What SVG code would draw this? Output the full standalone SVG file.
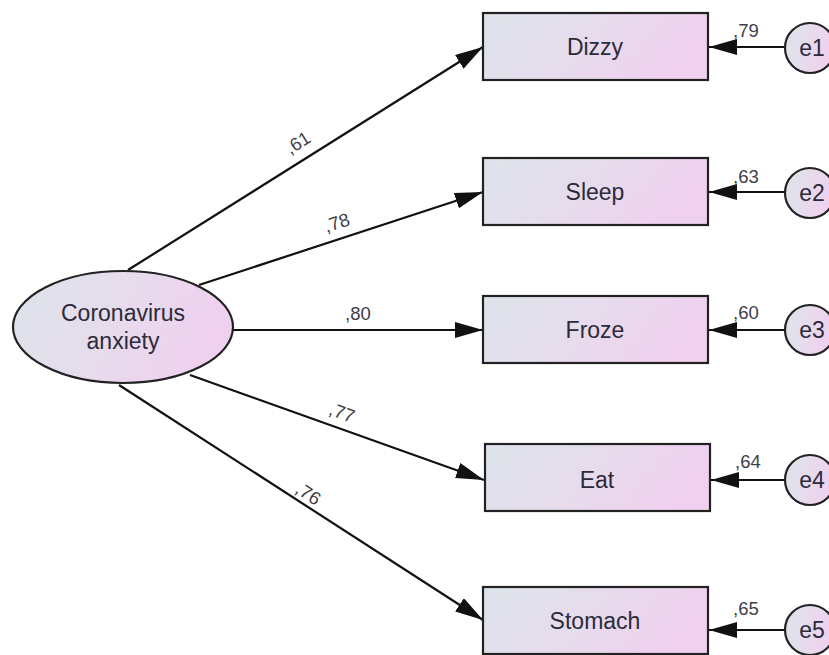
<svg xmlns="http://www.w3.org/2000/svg" width="829" height="655" viewBox="0 0 829 655">
<defs>
<linearGradient id="g" x1="0" y1="0" x2="1" y2="0.25">
<stop offset="0" stop-color="#dde4ea"/>
<stop offset="0.5" stop-color="#e6dcec"/>
<stop offset="1" stop-color="#f0d0ef"/>
</linearGradient>
<marker id="ah" viewBox="0 0 28 16" refX="28" refY="8" markerWidth="28" markerHeight="16" markerUnits="userSpaceOnUse" orient="auto">
<path d="M0,0 L28,8 L0,16 Z" fill="#111"/>
</marker>
<style>
.n{fill:url(#g);stroke:#222;stroke-width:2.2}
.t{font-family:"Liberation Sans",Arial,sans-serif;font-size:23px;fill:#2b2b3b;text-anchor:middle}
.c{font-family:"Liberation Sans",Arial,sans-serif;font-size:18.5px;fill:#404048}
.l{stroke:#111;stroke-width:2.2;fill:none;marker-end:url(#ah)}
</style>
</defs>
<g id="connectors">
<line class="l" x1="128" y1="270" x2="483" y2="47"/>
<line class="l" x1="199" y1="285" x2="483" y2="192"/>
<line class="l" x1="233" y1="330" x2="483" y2="330"/>
<line class="l" x1="190" y1="375" x2="484" y2="480"/>
<line class="l" x1="119" y1="385" x2="483" y2="620"/>
<line class="l" x1="785" y1="47" x2="709" y2="47"/>
<line class="l" x1="785" y1="192" x2="709" y2="192"/>
<line class="l" x1="785" y1="330" x2="709" y2="330"/>
<line class="l" x1="785" y1="480" x2="711" y2="480"/>
<line class="l" x1="785" y1="630" x2="709" y2="630"/>
<text class="c" text-anchor="middle" transform="translate(298,143) rotate(-32)" y="6">,61</text>
<text class="c" text-anchor="middle" transform="translate(337,223) rotate(-18)" y="6">,78</text>
<text class="c" x="345" y="320">,80</text>
<text class="c" text-anchor="middle" transform="translate(342,413) rotate(20)" y="6">,77</text>
<text class="c" text-anchor="middle" transform="translate(308,494) rotate(33)" y="6">,76</text>
<text class="c" x="733" y="37">,79</text>
<text class="c" x="733" y="183">,63</text>
<text class="c" x="733" y="319">,60</text>
<text class="c" x="735" y="468">,64</text>
<text class="c" x="733" y="615">,65</text>
</g>
<g id="anxiety">
<ellipse class="n" cx="123" cy="327" rx="110" ry="56"/>
<text class="t" x="123" y="321">Coronavirus</text>
<text class="t" x="123" y="349">anxiety</text>
</g>
<g id="dizzy"><rect class="n" x="483" y="13" width="225" height="67"/><text class="t" x="595" y="55">Dizzy</text></g>
<g id="sleep"><rect class="n" x="483" y="158" width="225" height="67"/><text class="t" x="595" y="200">Sleep</text></g>
<g id="froze"><rect class="n" x="483" y="296" width="225" height="67"/><text class="t" x="595" y="338">Froze</text></g>
<g id="eat"><rect class="n" x="485" y="444" width="225" height="67"/><text class="t" x="597" y="488">Eat</text></g>
<g id="stomach"><rect class="n" x="483" y="587" width="225" height="67"/><text class="t" x="595" y="629">Stomach</text></g>
<g id="e1"><circle class="n" cx="810" cy="48" r="25"/><text class="t" x="812" y="56">e1</text></g>
<g id="e2"><circle class="n" cx="810" cy="193" r="25"/><text class="t" x="812" y="201">e2</text></g>
<g id="e3"><circle class="n" cx="810" cy="330" r="25"/><text class="t" x="812" y="338">e3</text></g>
<g id="e4"><circle class="n" cx="810" cy="480" r="25"/><text class="t" x="812" y="488">e4</text></g>
<g id="e5"><circle class="n" cx="810" cy="630" r="25"/><text class="t" x="812" y="638">e5</text></g>
</svg>
